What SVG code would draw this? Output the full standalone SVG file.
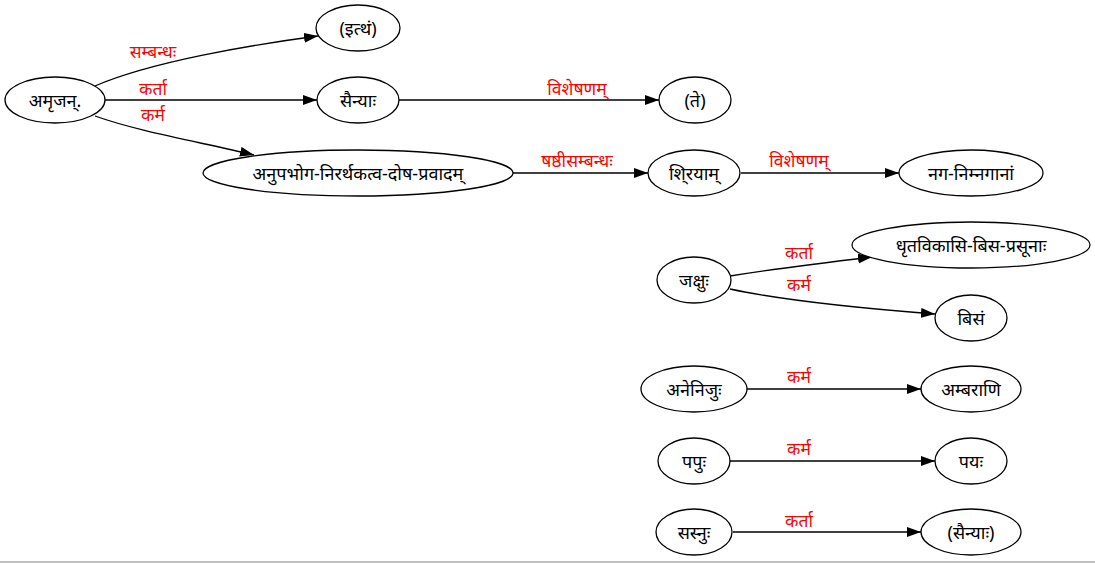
<svg xmlns="http://www.w3.org/2000/svg" width="1095" height="563" viewBox="0 0 1095 563">
<style>
.n ellipse{fill:#fff;stroke:#000;stroke-width:1.3}
.n text{font-family:"Noto Sans","Noto Sans CJK SC",sans-serif;font-size:18px;fill:#000;text-anchor:middle;dominant-baseline:central}
#edges path{fill:none;stroke:#000;stroke-width:1.3}
#edges text{font-family:"Noto Sans","Noto Sans CJK SC",sans-serif;font-size:17.5px;fill:#ff0000;text-anchor:middle;dominant-baseline:central}
</style>
<defs>
<marker id="ah" markerWidth="14" markerHeight="10" refX="14" refY="5" orient="auto" markerUnits="userSpaceOnUse">
<path d="M0,0 L14,5 L0,10 Z" fill="#000"/>
</marker>
</defs>
<rect width="1095" height="563" fill="#fff"/>
<g id="edges">
<path d="M95,86 C150,62 250,45 318,36" marker-end="url(#ah)"/>
<text x="153" y="51">सम्बन्धः</text>
<path d="M105,100 L317,100" marker-end="url(#ah)"/>
<text x="153" y="88">कर्ता</text>
<path d="M95,116 C140,132 200,142 254,155" marker-end="url(#ah)"/>
<text x="153" y="114">कर्म</text>
<path d="M399,100 L659,100" marker-end="url(#ah)"/>
<text x="577" y="88">विशेषणम्</text>
<path d="M513,173 L648,173" marker-end="url(#ah)"/>
<text x="577" y="160">षष्ठीसम्बन्धः</text>
<path d="M741,173 L899,173" marker-end="url(#ah)"/>
<text x="799" y="160">विशेषणम्</text>
<path d="M730,276 C780,268 830,262 872,257" marker-end="url(#ah)"/>
<text x="799" y="252">कर्ता</text>
<path d="M730,289 C790,302 870,309 935,314" marker-end="url(#ah)"/>
<text x="799" y="284">कर्म</text>
<path d="M747,389 L921,389" marker-end="url(#ah)"/>
<text x="799" y="376">कर्म</text>
<path d="M730,461 L935,461" marker-end="url(#ah)"/>
<text x="799" y="448">कर्म</text>
<path d="M733,532 L921,532" marker-end="url(#ah)"/>
<text x="799" y="520">कर्ता</text>
</g>
<g id="n1" class="n"><ellipse cx="55" cy="100" rx="50" ry="23"/><text x="55" y="100">अमृजन्.</text></g>
<g id="n2" class="n"><ellipse cx="358" cy="28" rx="42" ry="23"/><text x="358" y="28">(इत्थं)</text></g>
<g id="n3" class="n"><ellipse cx="358" cy="100" rx="41" ry="23"/><text x="358" y="100">सैन्याः</text></g>
<g id="n4" class="n"><ellipse cx="695" cy="100" rx="36" ry="23"/><text x="695" y="100">(ते)</text></g>
<g id="n5" class="n"><ellipse cx="358" cy="173" rx="155" ry="23"/><text x="358" y="173">अनुपभोग-निरर्थकत्व-दोष-प्रवादम्</text></g>
<g id="n6" class="n"><ellipse cx="694" cy="173" rx="46" ry="23"/><text x="694" y="173">शि्रयाम्</text></g>
<g id="n7" class="n"><ellipse cx="971" cy="173" rx="72" ry="23"/><text x="971" y="173">नग-निम्नगानां</text></g>
<g id="n8" class="n"><ellipse cx="971" cy="245" rx="119" ry="23"/><text x="971" y="245">धृतविकासि-बिस-प्रसूनाः</text></g>
<g id="n9" class="n"><ellipse cx="694" cy="280" rx="37" ry="23"/><text x="694" y="280">जक्षुः</text></g>
<g id="n10" class="n"><ellipse cx="971" cy="318" rx="36" ry="23"/><text x="971" y="318">बिसं</text></g>
<g id="n11" class="n"><ellipse cx="694" cy="389" rx="53" ry="23"/><text x="694" y="389">अनेनिजुः</text></g>
<g id="n12" class="n"><ellipse cx="971" cy="389" rx="50" ry="23"/><text x="971" y="389">अम्बराणि</text></g>
<g id="n13" class="n"><ellipse cx="694" cy="461" rx="36" ry="23"/><text x="694" y="461">पपुः</text></g>
<g id="n14" class="n"><ellipse cx="971" cy="461" rx="36" ry="23"/><text x="971" y="461">पयः</text></g>
<g id="n15" class="n"><ellipse cx="694" cy="532" rx="38" ry="23"/><text x="694" y="532">सस्नुः</text></g>
<g id="n16" class="n"><ellipse cx="971" cy="532" rx="50" ry="23"/><text x="971" y="532">(सैन्याः)</text></g>
<line x1="0" y1="562" x2="1095" y2="562" stroke="#aaa" stroke-width="1.5"/>
</svg>
